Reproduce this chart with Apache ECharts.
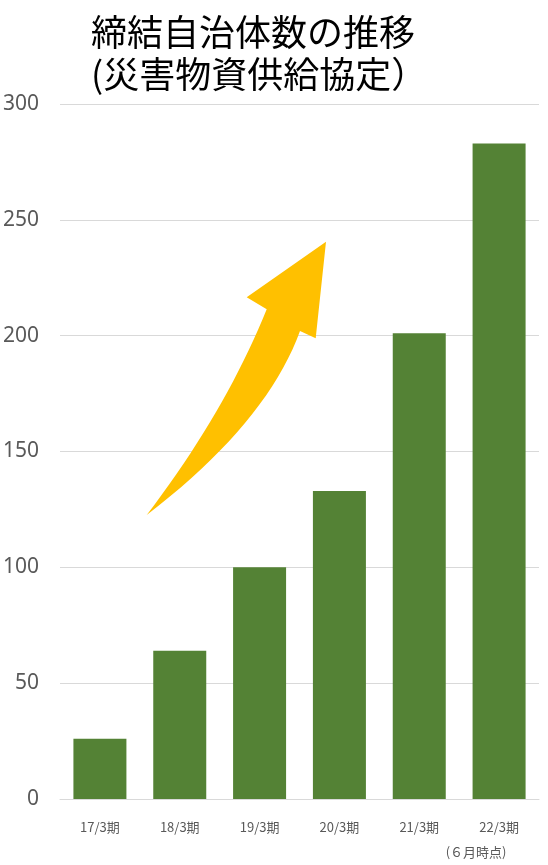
<!DOCTYPE html>
<html>
<head>
<meta charset="utf-8">
<script src="https://cdn.jsdelivr.net/npm/echarts@6/dist/echarts.min.js"></script>
<style>
html,body{margin:0;padding:0;background:#fff;}
#chart{width:548px;height:865px;}
</style>
</head>
<body>
<div id="chart"></div>
<script>
const titleText = '締結自治体数の推移\n(災害物資供給協定）';
const categories = ['17/3期', '18/3期', '19/3期', '20/3期', '21/3期', '22/3期'];
const lastNote = '(６月時点)';
const values = [26, 64, 100, 133, 201, 283];
const yMin = 0, yMax = 300, yStep = 50;

// decorative arrow outline (pixel shape): head + two curved shaft edges
function quad(p0, c, p2, n) {
  const out = [];
  for (let i = 1; i <= n; i++) {
    const t = i / n, u = 1 - t;
    out.push([u * u * p0[0] + 2 * u * t * c[0] + t * t * p2[0],
              u * u * p0[1] + 2 * u * t * c[1] + t * t * p2[1]]);
  }
  return out;
}
const tip = [326, 241.7], barbL = [246.7, 297.3], notchL = [266.7, 309.3];
const tail = [146.7, 515], notchR = [300, 331], barbR = [315.7, 338.3];
const arrowPts = [tip, barbL, notchL]
  .concat(quad(notchL, [225.3, 411.8], tail, 20))
  .concat(quad(tail, [266.6, 423], notchR, 20))
  .concat([barbR]);

const chart = echarts.init(document.getElementById('chart'), null, {renderer: 'canvas'});
chart.setOption({
  animation: false,
  backgroundColor: '#fff',
  title: {
    text: titleText,
    left: 86, top: 6,
    textStyle: {fontFamily: 'Noto Sans CJK JP', fontSize: 36, fontWeight: 'normal', color: '#000', lineHeight: 42}
  },
  grid: {left: 60, right: 9, top: 104, bottom: 66, containLabel: false, outerBoundsMode: 'none'},
  xAxis: {
    type: 'category',
    data: categories,
    axisLine: {show: true, lineStyle: {color: '#d9d9d9', width: 1}},
    axisTick: {show: false},
    axisLabel: {
      interval: 0, hideOverlap: false,
      margin: 20, color: '#595959', fontFamily: 'Noto Sans CJK JP', fontSize: 13,
      formatter: function (v, i) {
        return i === categories.length - 1 ? '{a|' + v + '}\n{b|' + lastNote + '}' : '{a|' + v + '}';
      },
      rich: {
        a: {fontFamily: 'Noto Sans CJK JP', fontSize: 13, color: '#595959', lineHeight: 16},
        b: {fontFamily: 'Noto Sans CJK JP', fontSize: 13, color: '#595959', lineHeight: 34, padding: [0, 46, 0, 0]}
      }
    }
  },
  yAxis: {
    type: 'value', min: yMin, max: yMax, interval: yStep,
    axisLine: {show: false}, axisTick: {show: false},
    splitLine: {lineStyle: {color: '#d9d9d9', width: 1}},
    axisLabel: {margin: 21, color: '#595959', fontFamily: 'Noto Sans', fontSize: 21}
  },
  series: [{
    type: 'bar',
    data: values,
    barWidth: 53,
    itemStyle: {color: '#548235'}
  }],
  graphic: [{
    type: 'polygon',
    z: 100,
    shape: {points: arrowPts},
    style: {fill: '#FFC000'}
  }]
});
</script>
</body>
</html>
